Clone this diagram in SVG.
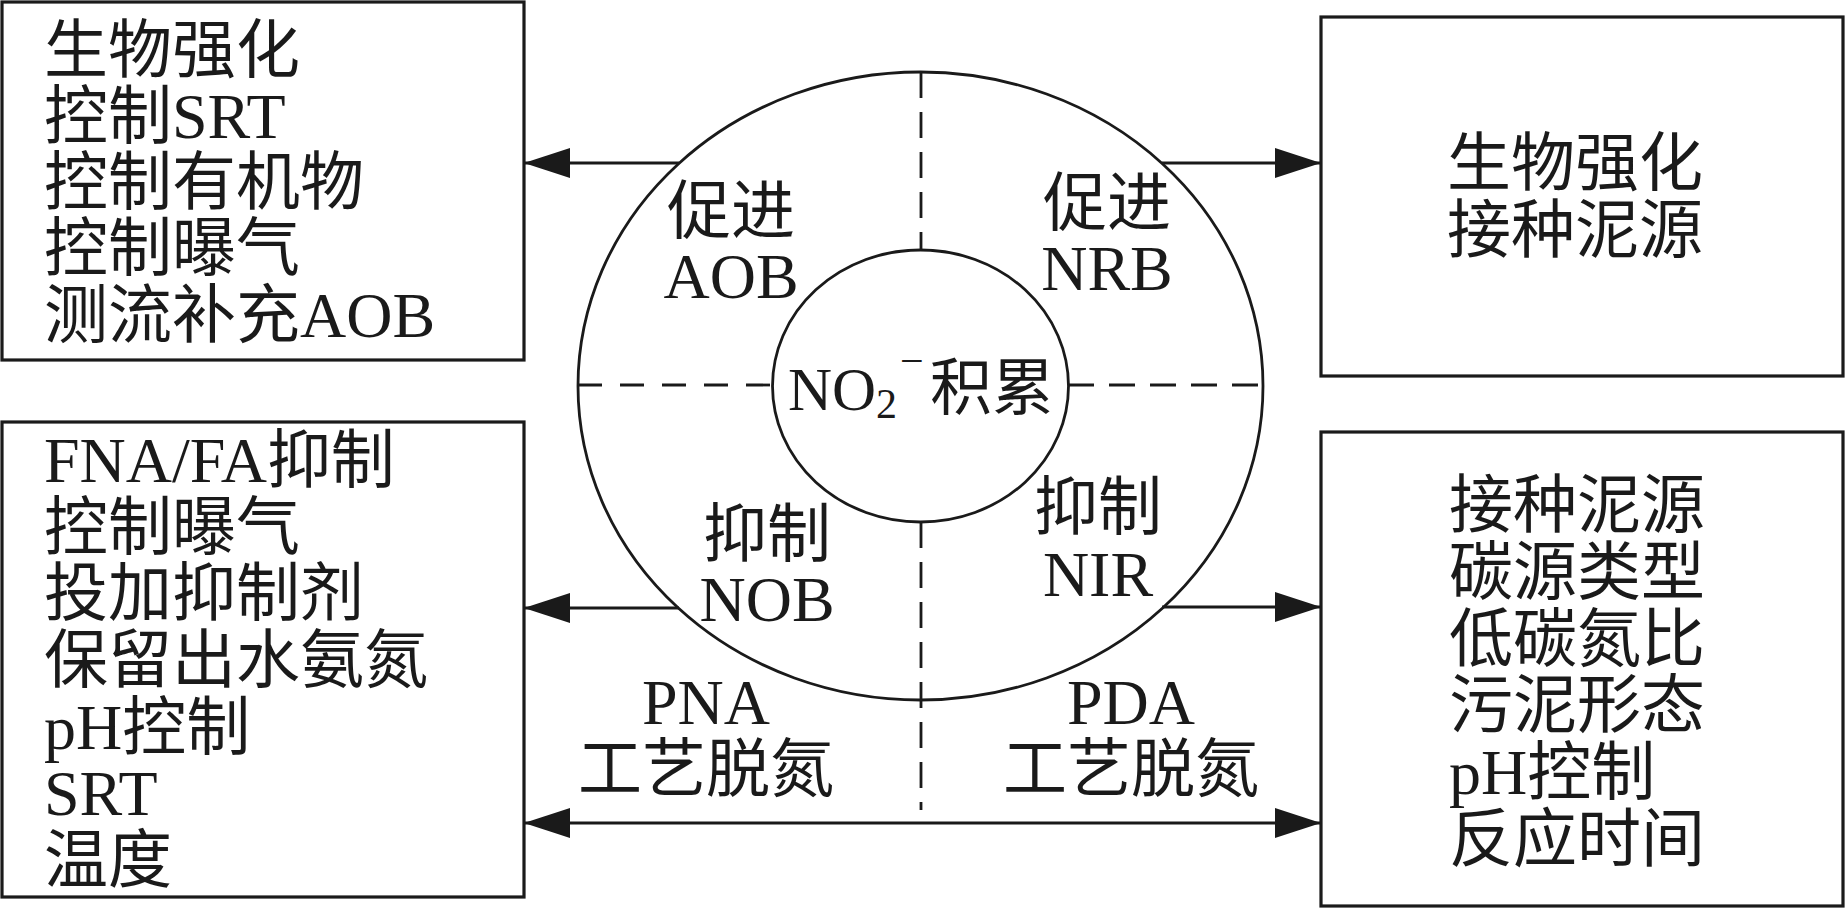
<svg xmlns="http://www.w3.org/2000/svg" width="1846" height="909" viewBox="0 0 1846 909">
<style>
.bx{fill:#fff;stroke:#1a1a1a;stroke-width:3.2}
.el{fill:none;stroke:#1a1a1a;stroke-width:2.8}
.ds{fill:none;stroke:#1a1a1a;stroke-width:2.8}
.ar{fill:none;stroke:#1a1a1a;stroke-width:3.2}
.t{font-family:"Liberation Serif","Noto Sans CJK SC",serif;font-size:64px;fill:#1a1a1a}
.c{text-anchor:middle}
</style>
<defs>
<marker id="ah" markerUnits="userSpaceOnUse" markerWidth="46" markerHeight="30" viewBox="0 0 46 30" refX="45" refY="15" orient="auto-start-reverse">
<path d="M0,0 L46,15 L0,30 Z" fill="#1a1a1a"/>
</marker>
</defs>
<rect width="1846" height="909" fill="#fff"/>

<g id="center">
<ellipse class="el" cx="920.5" cy="386" rx="342.5" ry="314"/>
<ellipse class="el" cx="920.5" cy="386" rx="148" ry="136"/>
<line class="ds" x1="921" y1="72" x2="921" y2="250" stroke-dasharray="26 14"/>
<line class="ds" x1="921" y1="522" x2="921" y2="810" stroke-dasharray="26 14"/>
<line class="ds" x1="578" y1="385" x2="773" y2="385" stroke-dasharray="24 18"/>
<line class="ds" x1="1068" y1="385" x2="1263" y2="385" stroke-dasharray="26 15"/>
<text class="t" x="788" y="410" style="font-size:61px">NO<tspan style="font-size:42px" y="418">2</tspan><tspan style="font-size:42px" x="900" y="375">−</tspan><tspan style="font-size:62px" x="930" y="410">积累</tspan></text>
</g>

<g id="q-aob">
<text class="t c" x="731" y="233">促进</text>
<text class="t c" x="731" y="298">AOB</text>
</g>
<g id="q-nrb">
<text class="t c" x="1107" y="225">促进</text>
<text class="t c" x="1107" y="290">NRB</text>
</g>
<g id="q-nob">
<text class="t c" x="767" y="556">抑制</text>
<text class="t c" x="767" y="621">NOB</text>
</g>
<g id="q-nir">
<text class="t c" x="1098" y="529">抑制</text>
<text class="t c" x="1098" y="596">NIR</text>
</g>
<g id="q-pna">
<text class="t c" x="706" y="724">PNA</text>
<text class="t c" x="706" y="791">工艺脱氮</text>
</g>
<g id="q-pda">
<text class="t c" x="1131" y="724">PDA</text>
<text class="t c" x="1131" y="791">工艺脱氮</text>
</g>

<g id="box-tl">
<rect class="bx" x="2" y="2" width="522" height="358"/>
<text class="t" x="44" y="72">生物强化</text>
<text class="t" x="44" y="138">控制SRT</text>
<text class="t" x="44" y="204">控制有机物</text>
<text class="t" x="44" y="270">控制曝气</text>
<text class="t" x="44" y="337">测流补充AOB</text>
</g>

<g id="box-bl">
<rect class="bx" x="2" y="422" width="522" height="475"/>
<text class="t" x="44" y="482">FNA/FA抑制</text>
<text class="t" x="44" y="549">控制曝气</text>
<text class="t" x="44" y="615">投加抑制剂</text>
<text class="t" x="44" y="682">保留出水氨氮</text>
<text class="t" x="44" y="749">pH控制</text>
<text class="t" x="44" y="815">SRT</text>
<text class="t" x="44" y="882">温度</text>
</g>

<g id="box-tr">
<rect class="bx" x="1321" y="17" width="522" height="359"/>
<text class="t" x="1447" y="185">生物强化</text>
<text class="t" x="1447" y="252">接种泥源</text>
</g>

<g id="box-br">
<rect class="bx" x="1321" y="432" width="522" height="474"/>
<text class="t" x="1449" y="527">接种泥源</text>
<text class="t" x="1449" y="594">碳源类型</text>
<text class="t" x="1449" y="661">低碳氮比</text>
<text class="t" x="1449" y="727">污泥形态</text>
<text class="t" x="1449" y="794">pH控制</text>
<text class="t" x="1449" y="861">反应时间</text>
</g>

<g id="connectors">
<line class="ar" x1="679" y1="163" x2="525" y2="163" marker-end="url(#ah)"/>
<line class="ar" x1="1162" y1="163" x2="1320" y2="163" marker-end="url(#ah)"/>
<line class="ar" x1="679" y1="608" x2="525" y2="608" marker-end="url(#ah)"/>
<line class="ar" x1="1162" y1="607" x2="1320" y2="607" marker-end="url(#ah)"/>
<line class="ar" x1="525" y1="823" x2="1320" y2="823" marker-start="url(#ah)" marker-end="url(#ah)"/>
</g>
</svg>
